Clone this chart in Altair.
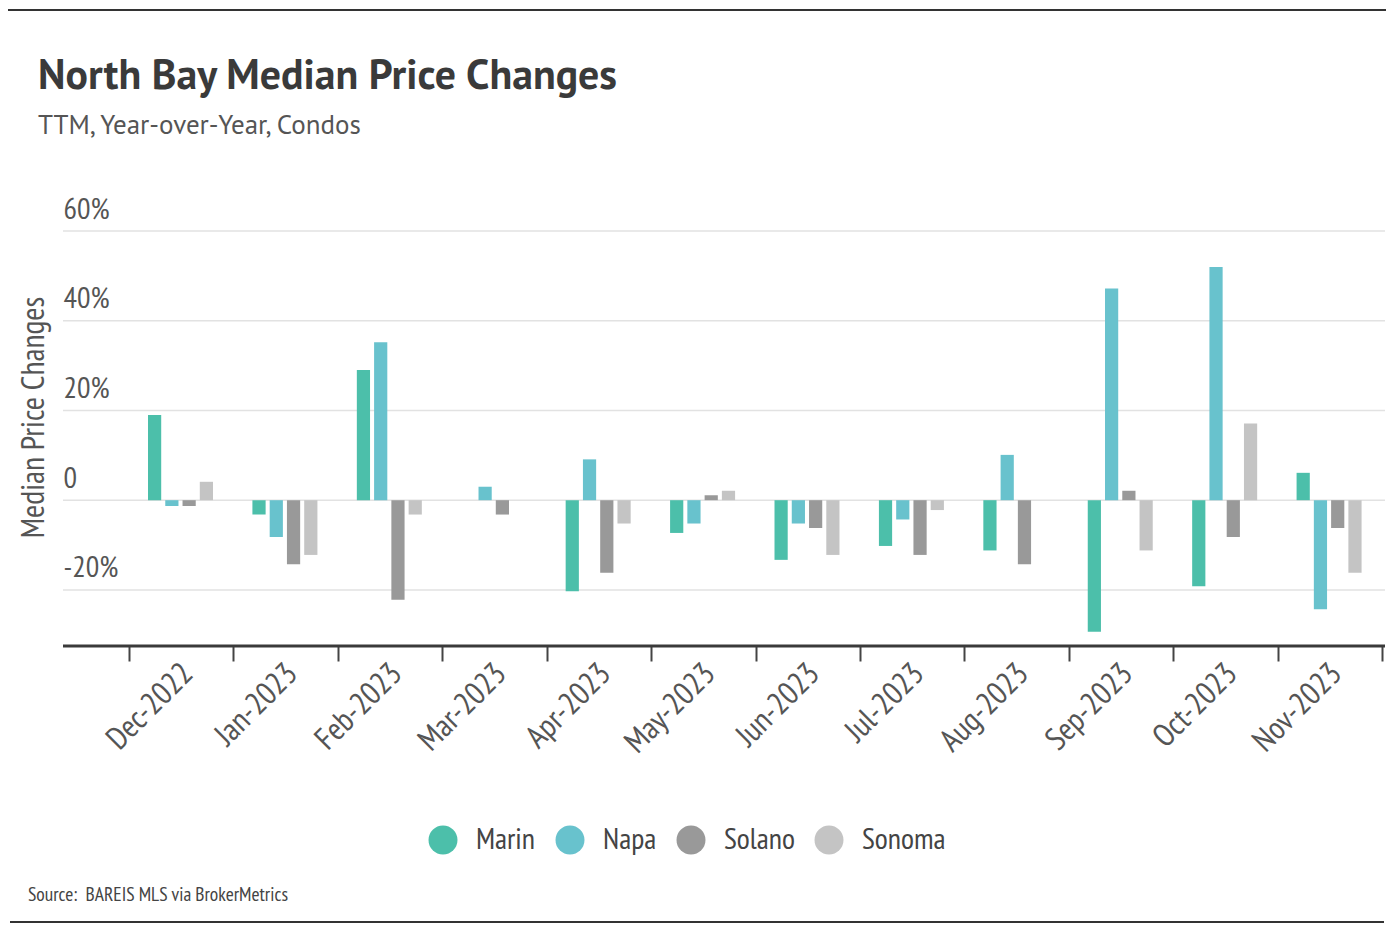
import altair as alt
import pandas as pd

months = ["Dec-2022", "Jan-2023", "Feb-2023", "Mar-2023", "Apr-2023", "May-2023",
          "Jun-2023", "Jul-2023", "Aug-2023", "Sep-2023", "Oct-2023", "Nov-2023"]
counties = ["Marin", "Napa", "Solano", "Sonoma"]
colors = ["#4cbfaa", "#68c2cd", "#999999", "#c4c4c4"]

marin = [19.0, -3.2, 29.0, None, -20.3, -7.3, -13.3, -10.2, -11.2, -29.3, -19.2, 6.1]
napa = [-1.3, -8.2, 35.2, 3.0, 9.1, -5.2, -5.2, -4.3, 10.1, 47.2, 52.0, -24.3]
solano = [-1.3, -14.3, -22.2, -3.2, -16.2, 1.1, -6.2, -12.2, -14.3, 2.1, -8.2, -6.2]
sonoma = [4.1, -12.2, -3.2, None, -5.2, 2.1, -12.2, -2.2, None, -11.2, 17.1, -16.2]

y_ticks = [-20, 0, 20, 40, 60]

title_text = "North Bay Median Price Changes"
subtitle_text = "TTM, Year-over-Year, Condos"
y_title = "Median Price Changes"
source_text = "Source:\u00a0 BAREIS MLS via BrokerMetrics"

FONT = "'PT Sans Narrow', 'Liberation Sans Narrow', 'DejaVu Sans Condensed', 'Roboto Condensed', sans-serif"
TFONT = "'PT Sans', 'Liberation Sans Narrow', 'Lato', sans-serif"
SFONT = "'PT Sans', 'Lato', 'Roboto', sans-serif"

rows = []
for c, vals in zip(counties, [marin, napa, solano, sonoma]):
    for m, v in zip(months, vals):
        rows.append({"month": m, "county": c, "value": v})
df = pd.DataFrame(rows)

W, H = 1253, 415

bars = alt.Chart(df).mark_bar().encode(
    x=alt.X("month:N", sort=months,
            scale=alt.Scale(paddingInner=0, paddingOuter=0),
            axis=alt.Axis(title=None, labelAngle=-45, labelAlign="right",
                          labelBaseline="middle", labelFontSize=32,
                          labelFont=FONT, labelColor="#555555",
                          labelPadding=7, labelOffset=6,
                          tickBand="extent", ticks=True, tickSize=15,
                          tickColor="#444444", tickWidth=2,
                          domain=False, grid=False)),
    xOffset=alt.XOffset("county:N", sort=counties,
                        scale=alt.Scale(range=[19, 84], paddingInner=0.235, paddingOuter=0)),
    y=alt.Y("value:Q", scale=alt.Scale(domain=[-32.5, 60], nice=False, zero=True),
            axis=alt.Axis(title=y_title, values=y_ticks, grid=False, domain=False,
                          ticks=False, labelAlign="left", labelBaseline="alphabetic",
                          labelPadding=66, labelOffset=-13, labelFontSize=30,
                          labelFont=FONT, labelColor="#555555",
                          labelExpr="datum.value == 0 ? '0' : datum.value + '%'",
                          titleFont=FONT, titleFontSize=32, titleFontWeight="normal",
                          titleColor="#555555", titleAngle=270, titleAlign="center",
                          titleBaseline="middle", titleX=-96, titleY=186)),
    color=alt.Color("county:N", sort=counties,
                    scale=alt.Scale(domain=counties, range=colors),
                    legend=alt.Legend(title=None, orient="none", direction="horizontal",
                                      legendX=299, legendY=594, symbolType="circle",
                                      symbolSize=840, symbolStrokeWidth=0,
                                      symbolOpacity=1, labelFontSize=30,
                                      labelFont=FONT, labelColor="#444444",
                                      labelOffset=18, columnPadding=19, padding=0)),
)

grid = alt.Chart(pd.DataFrame({"v": y_ticks})).mark_rule(
    color="#e2e2e2", strokeWidth=1.5
).encode(
    y=alt.Y("v:Q"),
    x=alt.value(-66), x2=alt.value(W + 3),
)

one = pd.DataFrame({"a": [0]})

baseline = alt.Chart(one).mark_rule(color="#3a3a3a", strokeWidth=3).encode(
    x=alt.value(-66), x2=alt.value(W + 3), y=alt.value(H)
)

top_line = alt.Chart(one).mark_rule(color="#333333", strokeWidth=2).encode(
    x=alt.value(-121), x2=alt.value(W + 10), y=alt.value(-221)
)
bottom_line = alt.Chart(one).mark_rule(color="#333333", strokeWidth=2).encode(
    x=alt.value(-119), x2=alt.value(W + 2), y=alt.value(691)
)

title = alt.Chart(one).mark_text(
    text=title_text, align="left", baseline="alphabetic", font=TFONT,
    fontSize=41.8, fontWeight="bold", color="#3a3a3a"
).encode(x=alt.value(-91), y=alt.value(-142))

subtitle = alt.Chart(one).mark_text(
    text=subtitle_text, align="left", baseline="alphabetic", font=SFONT,
    fontSize=27, color="#555555"
).encode(x=alt.value(-91), y=alt.value(-97))

source = alt.Chart(one).mark_text(
    text=source_text, align="left", baseline="middle", font=FONT,
    fontSize=19.5, color="#444444"
).encode(x=alt.value(-101), y=alt.value(664))

chart = alt.layer(grid, bars, baseline, top_line, bottom_line, title, subtitle, source).properties(
    width=W, height=H,
    background="white",
    autosize=alt.AutoSizeParams(type="none"),
    padding={"left": 121, "top": 223, "right": 4, "bottom": 290},
).configure_view(stroke="transparent", strokeWidth=0)

chart.save("out.html", embed_options={"renderer": "svg", "actions": False})
